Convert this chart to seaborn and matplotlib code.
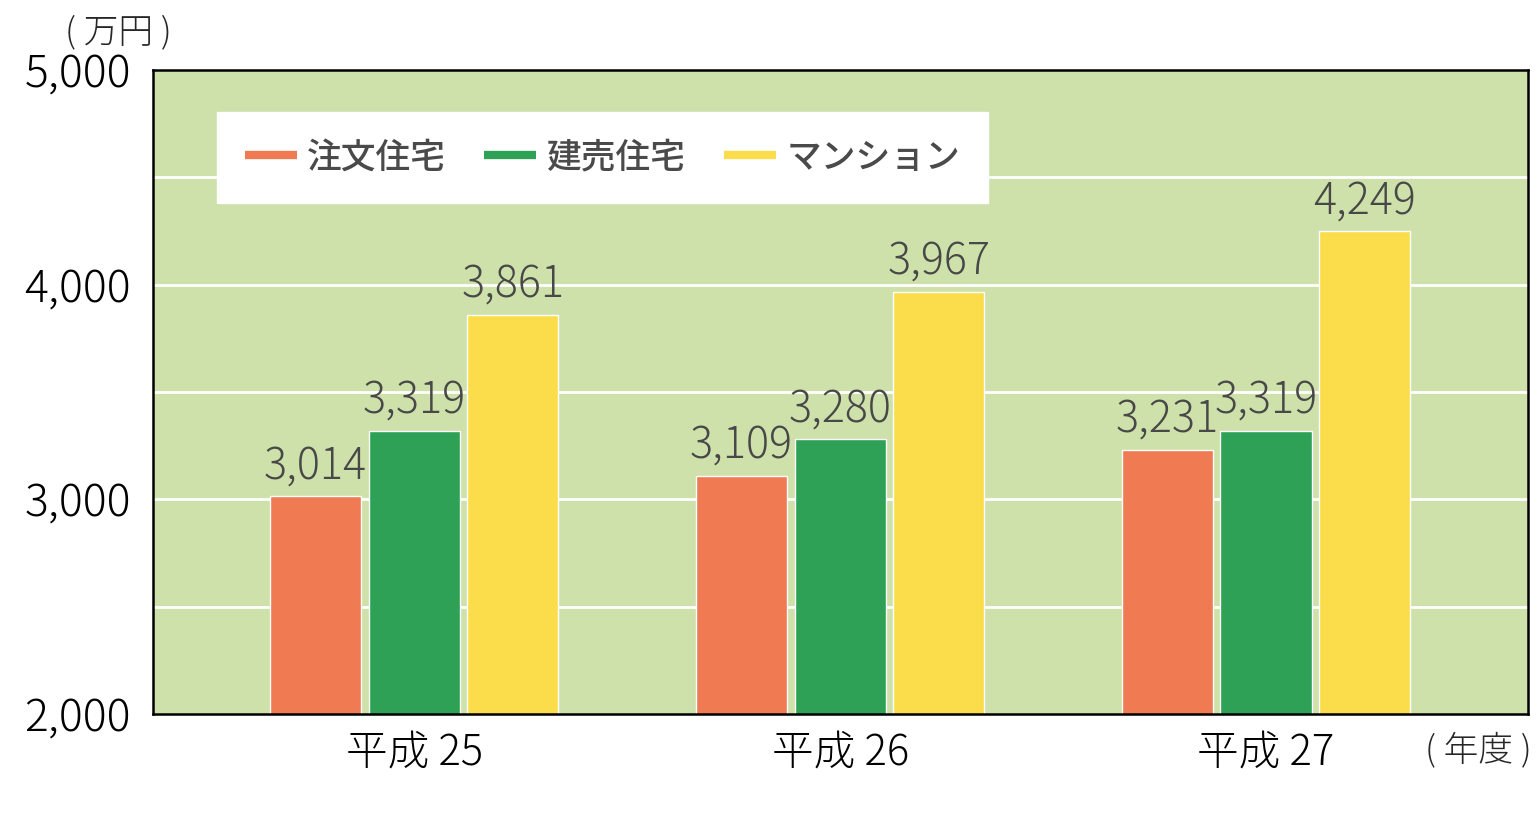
import matplotlib.pyplot as plt
import seaborn as sns
import pandas as pd
from matplotlib.lines import Line2D


# ==============================
# DATA
# ==============================

years = ["平成 25", "平成 26", "平成 27"]
types = ["注文住宅", "建売住宅", "マンション"]

chumon = [3014, 3109, 3231]
tateuri = [3319, 3280, 3319]
mansion = [3861, 3967, 4249]

colors = ["#f07b52", "#2ea156", "#fbdc4a"]

df = pd.DataFrame({
    "year": years * 3,
    "type": [types[0]] * 3 + [types[1]] * 3 + [types[2]] * 3,
    "value": chumon + tateuri + mansion,
})


# ==============================
# PLOT
# ==============================

sns.set_style("white")
plt.rcParams["font.family"] = ["Noto Sans CJK JP", "DejaVu Sans"]

fig = plt.figure(figsize=(15.38, 8.32), dpi=100)
ax = fig.add_axes([153 / 1538, 1 - 714 / 832, 1375 / 1538, 644 / 832])
ax.set_facecolor("#cee1aa")

sns.barplot(
    data=df,
    x="year",
    y="value",
    hue="type",
    palette=colors,
    width=0.696,
    gap=0.078,
    saturation=1,
    legend=False,
    ax=ax,
)

ax.set_ylim(2000, 5000)
ax.set_xlim(-0.613, 2.615)

# white gridlines every 500
for g in [2500, 3000, 3500, 4000, 4500]:
    ax.axhline(g, color="white", lw=2, zorder=0.5)
ax.set_axisbelow(True)

ax.set_yticks([2000, 3000, 4000, 5000])
ax.set_yticklabels(["2,000", "3,000", "4,000", "5,000"])
ax.tick_params(axis="y", labelsize=32, length=0, pad=16, colors="black")
ax.tick_params(axis="x", labelsize=30, length=0, pad=12, colors="black")
for lab in ax.get_yticklabels() + ax.get_xticklabels():
    lab.set_fontweight("light")
ax.set_xlabel("")
ax.set_ylabel("")

for s in ax.spines.values():
    s.set_visible(True)
    s.set_color("black")
    s.set_linewidth(1.8)

# value labels
for cont in ax.containers:
    ax.bar_label(
        cont,
        labels=[f"{int(v):,}" for v in cont.datavalues],
        fontsize=31,
        fontweight="light",
        color="#484848",
        padding=5,
    )

# legend
handles = [Line2D([0], [0], color=c, lw=6, solid_capstyle="butt") for c in colors]
leg = ax.legend(
    handles,
    types,
    loc="upper left",
    bbox_to_anchor=(0.0465, 0.935),
    borderaxespad=0,
    ncol=3,
    fontsize=25,
    frameon=True,
    fancybox=False,
    edgecolor="white",
    framealpha=1,
    handlelength=1.5,
    handletextpad=0.3,
    columnspacing=1.1,
    borderpad=0.8,
)
for t in leg.get_texts():
    t.set_color("#4a4a4a")
    t.set_fontweight("medium")

fig.text(65 / 1538, 1 - 32 / 832, "( 万円 )", fontsize=25, fontweight="light",
         va="center", ha="left")
fig.text(1532 / 1538, 1 - 750 / 832, "( 年度 )", fontsize=25, fontweight="light",
         va="center", ha="right")

fig.savefig("out.png", dpi=100, facecolor="white")
